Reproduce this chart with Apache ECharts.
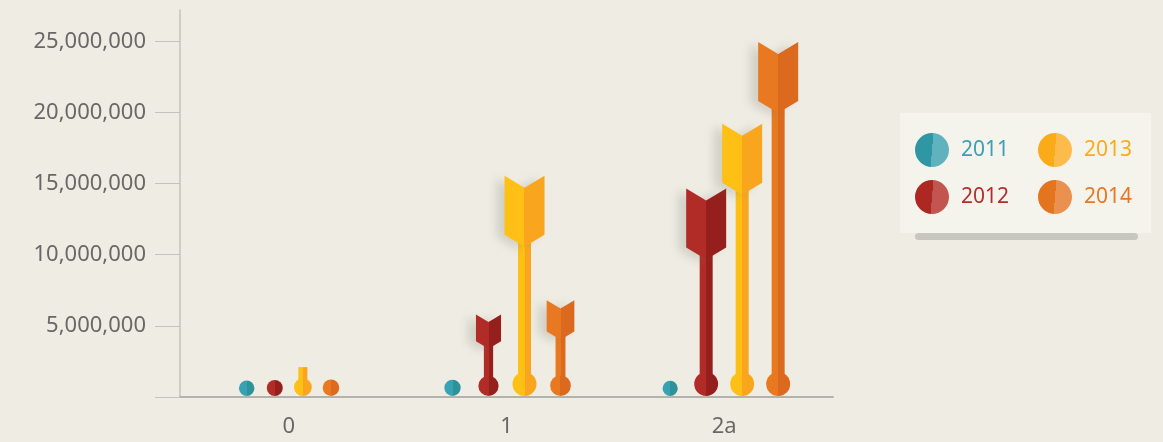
<!DOCTYPE html>
<html><head><meta charset="utf-8">
<script src="https://cdn.jsdelivr.net/npm/echarts@6/dist/echarts.min.js"></script>
<style>html,body{margin:0;padding:0;background:#eeece3;}#c{width:1163px;height:442px;}</style>
</head><body><div id="c"></div>
<script>
// ---- data ----
const categories = ['0', '1', '2a'];
const years = ['2011', '2012', '2013', '2014'];
const v2011 = [300000, 800000, 200000];
const v2012 = [600000, 5800000, 14650000];
const v2013 = [2100000, 15550000, 19200000];
const v2014 = [1000000, 6800000, 24950000];
const yTickValues = [5000000, 10000000, 15000000, 20000000, 25000000];

// ---- styles ----
const seriesValues = [v2011, v2012, v2013, v2014];
const tones = [['#36a2b4', '#2e9398'], ['#b22c27', '#951f1c'], ['#fec015', '#f9a61e'], ['#e87920', '#dc6a1e']];
const legendTones = [['#2f96a3', '#5fb2be'], ['#ad2823', '#c2554f'], ['#fbaa18', '#fdbb4c'], ['#e5741f', '#ea9150']];
const textColors = ['#3aa0b3', '#b52e2a', '#f8ac19', '#e67824'];

function split(a, b) {
  return { type: 'linear', x: 0, y: 0, x2: 1, y2: 0,
    colorStops: [{ offset: 0, color: a }, { offset: 0.5, color: a }, { offset: 0.5, color: b }, { offset: 1, color: b }] };
}
function legendSplit(a, b) {
  return { type: 'linear', x: 0, y: 0.46, x2: 1, y2: 0.54,
    colorStops: [{ offset: 0, color: a }, { offset: 0.5, color: a }, { offset: 0.5, color: b }, { offset: 1, color: b }] };
}
function catMax(ci) { return Math.max.apply(null, seriesValues.map(s => s[ci])); }

function makeRender(si) {
  return function (params, api) {
    const ci = api.value(0), val = api.value(1);
    const M = val / 1e6;
    const base = api.coord([ci, 0]);
    const top = api.coord([ci, val]);
    const gap = 26 + 10 * Math.min(1, catMax(ci) / 1e7);
    const x = base[0] + (si - 1.5) * gap;
    const y0 = base[1];
    const r = 7 + 5 * Math.min(1, Math.sqrt(M / 15));
    const cy = y0 - r - 1;
    const w = Math.min(40, 10 + 2.6 * M);
    const side = Math.min(59, 4.6 * M);
    const notch = 0.3 * w;
    const sw = Math.max(9, 3 + 0.25 * w);
    const fill = split(tones[si][0], tones[si][1]);
    const children = [];
    const ty = top[1];
    const hasHead = (cy - r - ty) > side + notch;
    const stemTop = hasHead ? ty + side : ty;
    if (stemTop < cy - r) {
      children.push({ type: 'rect', shape: { x: x - sw / 2, y: stemTop, width: sw, height: cy - stemTop }, style: { fill: fill } });
    }
    children.push({ type: 'circle', shape: { cx: x, cy: cy, r: r }, style: { fill: fill } });
    if (hasHead) {
      const L = x - w / 2, R = x + w / 2;
      children.push({ type: 'polygon', shape: { points: [[L, ty], [x, ty + notch], [R, ty], [R, ty + side], [x, ty + side + notch], [L, ty + side]] },
        style: { fill: fill, shadowBlur: 10, shadowOffsetX: -8, shadowOffsetY: 2, shadowColor: 'rgba(110,110,90,0.22)' } });
    }
    return { type: 'group', children: children };
  };
}

const series = years.map((y, si) => ({
  type: 'custom', name: y,
  renderItem: makeRender(si),
  encode: { x: 0, y: 1 },
  itemStyle: { color: tones[si][0] },
  data: categories.map((c, ci) => [ci, seriesValues[si][ci]]),
  z: 3
}));

function legendData(idx) {
  return idx.map(i => ({ name: years[i], itemStyle: { color: legendSplit(legendTones[i][0], legendTones[i][1]) }, textStyle: { color: textColors[i] } }));
}
const legendCommon = {
  orient: 'vertical', top: 133, itemWidth: 34, itemHeight: 34, itemGap: 13, icon: 'circle', padding: 0,
  selectedMode: false, z: 6,
  textStyle: { fontSize: 21, fontFamily: 'Noto Sans', padding: [0, 0, 0, 7] }
};

const chart = echarts.init(document.getElementById('c'));
chart.setOption({
  backgroundColor: '#eeece3',
  animation: false,
  grid: { left: 180, right: 330, top: 10, bottom: 45 },
  xAxis: {
    type: 'category', data: categories,
    axisLine: { lineStyle: { color: '#b3b3ad', width: 2 } },
    axisTick: { length: 20, lineStyle: { color: '#c3c3bd', width: 1 } },
    axisLabel: { margin: 19, color: '#686868', fontSize: 22, fontFamily: 'Noto Sans' }
  },
  yAxis: {
    type: 'value', min: 0, max: 27200000, interval: 5000000,
    axisLine: { show: true, lineStyle: { color: '#c3c3bd', width: 1.5 } },
    axisTick: { show: true, length: 25, lineStyle: { color: '#c3c3bd' }, customValues: [0].concat(yTickValues) },
    axisLabel: { customValues: yTickValues, margin: 34, color: '#686868', fontSize: 22, fontFamily: 'Noto Sans',
      formatter: v => yTickValues.indexOf(v) >= 0 ? v.toLocaleString('en-US') : '' },
    splitLine: { show: false }
  },
  legend: [
    Object.assign({}, legendCommon, { left: 915, data: legendData([0, 1]) }),
    Object.assign({}, legendCommon, { left: 1038, data: legendData([2, 3]) })
  ],
  graphic: [
    { type: 'rect', z: 1, shape: { x: 915, y: 233, width: 223, height: 7, r: 3.5 }, style: { fill: '#c8c7bf' } },
    { type: 'rect', z: 2, shape: { x: 900, y: 113, width: 251, height: 120 }, style: { fill: '#f4f3ec' } }
  ],
  series: series
});
</script></body></html>
